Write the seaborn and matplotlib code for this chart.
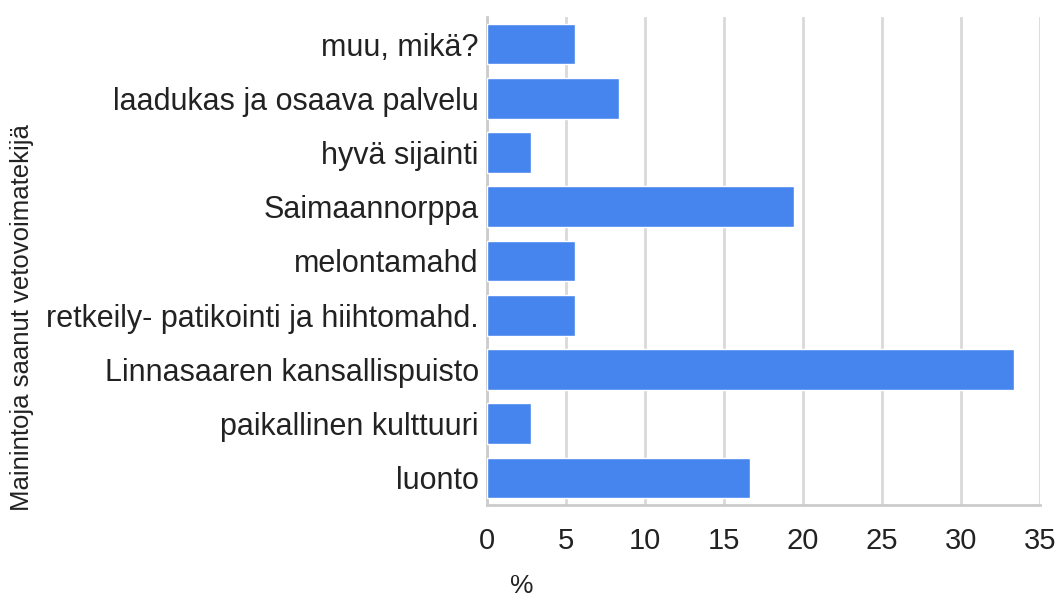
import numpy as np
import pandas as pd
import matplotlib
matplotlib.use("Agg")
import matplotlib.pyplot as plt
import seaborn as sns

categories = [
    "muu, mikä?",
    "laadukas ja osaava palvelu",
    "hyvä sijainti",
    "Saimaannorppa",
    "melontamahd",
    "retkeily- patikointi ja hiihtomahd.",
    "Linnasaaren kansallispuisto",
    "paikallinen kulttuuri",
    "luonto",
]
percent = [5.56, 8.33, 2.78, 19.44, 5.56, 5.56, 33.33, 2.78, 16.67]
x_ticks = [0, 5, 10, 15, 20, 25, 30, 35]

df = pd.DataFrame({"kategoria": categories, "pct": percent})

sns.set_style("white")
plt.rcParams["font.family"] = ["Liberation Sans", "DejaVu Sans"]

fig = plt.figure(figsize=(10.62, 6.0), dpi=100)
ax = fig.add_axes([487 / 1062, 1 - 505 / 600, 553 / 1062, 488 / 600])

sns.barplot(data=df, x="pct", y="kategoria", orient="h", color="#4684ee",
            saturation=1, width=0.75, ax=ax, zorder=3)

ax.set_xlim(0, 35)
ax.set_ylim(len(categories) - 0.5, -0.5)
ax.set_xticks(x_ticks)
ax.set_xticklabels([str(t) for t in x_ticks], fontsize=21, color="#222222")
ax.tick_params(axis="y", labelsize=22, labelcolor="#222222", length=0, pad=6)
ax.tick_params(axis="x", length=6, width=2, color="#cccccc", pad=10)

# boundary ticks on the left between categories
ax.set_yticks(np.arange(-0.5, len(categories), 1), minor=True)
ax.tick_params(axis="y", which="minor", length=6, width=1.5, color="#cccccc")

ax.grid(axis="x", color="#d9d9d9", linewidth=2, zorder=0)
for s in ["top", "right"]:
    ax.spines[s].set_visible(False)
for s in ["left", "bottom"]:
    ax.spines[s].set_color("#cccccc")
    ax.spines[s].set_linewidth(2)

ax.set_xlabel("%", fontsize=19, color="#222222", va="center")
ax.xaxis.set_label_coords(35 / 553, -0.165)
ax.set_ylabel("Mainintoja saanut vetovoimatekijä", fontsize=18.5, color="#222222",
              va="center")
ax.yaxis.set_label_coords(-465 / 553, 0.385)

fig.savefig("out.png", dpi=100)
